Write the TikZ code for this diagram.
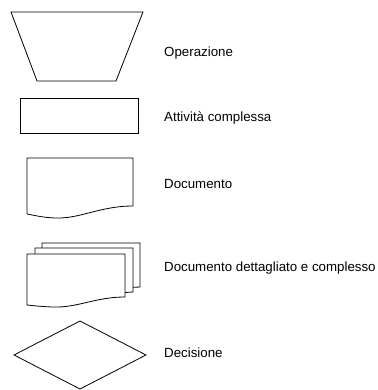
\documentclass[tikz,border=0pt]{standalone}
\usepackage{fontspec}
\setmainfont{Liberation Sans}
\begin{document}
\begin{tikzpicture}[x=1pt,y=-1pt,
  shp/.style={draw=black,line width=0.8pt,fill=white,line join=miter},
  lbl/.style={anchor=base west,inner sep=0pt,font=\fontsize{13.3}{15}\selectfont}]
\useasboundingbox (0,0) rectangle (377,390);
% Operazione (trapezoid)
\draw[shp] (11,12) -- (143,12) -- (116,81) -- (37,81) -- cycle;
\node[lbl] (op) at (164,56.5) {Operazione};
% Attivita complessa (rectangle)
\draw[shp] (20,98) rectangle (138,133);
\node[lbl] (att) at (164,121.5) {Attività complessa};
% Documento
\draw[shp] (27,214) -- (27,158) -- (133,158) -- (133,206)
  .. controls (100,206) and (80,219) .. (55,218)
  .. controls (42,217.5) and (33,215) .. (27,214);
\node[lbl] (doc) at (164,188.5) {Documento};
% Documento dettagliato e complesso
\draw[shp] (42,280) -- (42,243) -- (140,243) -- (140,287) -- (100,289) -- (42,289) -- cycle;
\draw[shp] (35,290) -- (35,248) -- (133,248) -- (133,292) -- (100,294) -- (35,294) -- cycle;
\draw[shp] (27,305) -- (27,254) -- (125,254) -- (125,297)
  .. controls (95,297) and (78,308) .. (52,307)
  .. controls (40,306.5) and (32,305.5) .. (27,305);
\node[lbl] (ddc) at (164,271) {Documento dettagliato e complesso};
% Decisione (diamond)
\draw[shp] (14,355) -- (80,321) -- (146,355) -- (80,389) -- cycle;
\node[lbl] (dec) at (164,357) {Decisione};
\end{tikzpicture}
\end{document}
